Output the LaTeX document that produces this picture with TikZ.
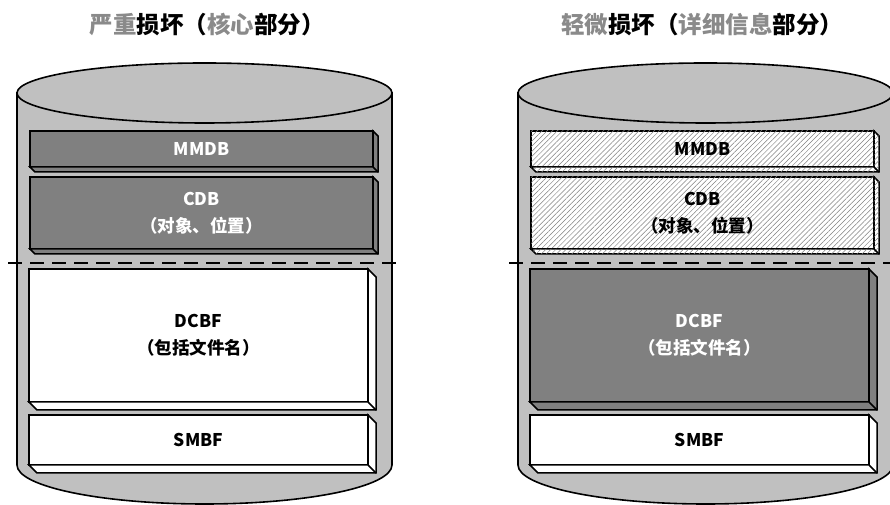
\documentclass[tikz,border=0pt]{standalone}
\usepackage{fontspec}
\newfontfamily\cjk{Noto Sans CJK SC}
\usetikzlibrary{patterns.meta,calc}
\definecolor{cylgray}{HTML}{C0C0C0}
\definecolor{boxdark}{HTML}{808080}
\definecolor{titlegray}{HTML}{8A8A8A}

\tikzset{
  cylbody/.style={draw=black, line width=1.6pt, fill=cylgray},
  layer/.style={draw=black, line width=1.5pt, anchor=north west, inner sep=0pt,
    outer sep=0pt, align=center, font=\cjk\bfseries\fontsize{17.5}{27}\selectfont},
  darkfill/.style={fill=boxdark},
  whitefill/.style={fill=white},
  hatchfill/.style={fill=white, postaction={pattern={Lines[angle=45,distance=3.6pt,line width=0.5pt]}, pattern color=gray}},
  darklayer/.style={layer, darkfill, text=white},
  whitelayer/.style={layer, whitefill, text=black},
  hatchlayer/.style={layer, hatchfill, text=black},
  cut/.style={line width=1.8pt, dash pattern=on 14pt off 8pt},
  heading/.style={font=\cjk\bfseries\fontsize{23.5}{28}\selectfont, inner sep=0pt},
}

% 3D edge (right side and bottom strip) under a layer node
\newcommand\bevel[3]{%
  \draw[line width=1.5pt, #3] (#1.north east) -- ++(#2,-#2)
    -- ($(#1.south east)+(#2,-#2)$) -- ($(#1.south west)+(#2,-#2)$)
    -- (#1.south west) -- (#1.south east) -- cycle;
  \draw[line width=1.5pt] (#1.south east) -- ++(#2,-#2);
}

% cylinder: left edge x, width
\newcommand\drum[2]{%
  \draw[cylbody] (#1,412) -- (#1,40)
    arc[start angle=180, end angle=360, x radius=#2/2, y radius=39]
    -- ++(0,372) -- cycle;
  \draw[cylbody] (#1+#2/2,412) ellipse[x radius=#2/2, y radius=30];
}

\begin{document}
\begin{tikzpicture}[x=1pt, y=1pt]
  \useasboundingbox (0,0) rectangle (890,505);

  % ---- headings ----
  \node[heading] (titleL) at (207,480)
    {\textcolor{titlegray}{严重}损坏（\textcolor{titlegray}{核心}部分）};
  \node[heading] (titleR) at (702,480)
    {\textcolor{titlegray}{轻微}损坏（\textcolor{titlegray}{详细信息}部分）};

  % ---- cylinders ----
  \drum{17}{375}
  \drum{518}{375}

  % ---- dividing lines ----
  \draw[cut] (8,242) -- (400,242);
  \draw[cut] (509,242) -- (892,242);

  % ---- left cylinder: severe damage ----
  \node[darklayer, minimum width=343, minimum height=36] (mmdbL) at (30,374) {MMDB};
  \bevel{mmdbL}{5}{darkfill}
  \node[darklayer, minimum width=343, minimum height=72] (cdbL) at (30,328) {CDB\\（对象、位置）};
  \bevel{cdbL}{5}{darkfill}
  \node[whitelayer, minimum width=339, minimum height=133] (dcbfL) at (29,236) {DCBF\\（包括文件名）};
  \bevel{dcbfL}{8}{whitefill}
  \node[whitelayer, minimum width=339, minimum height=50] (smbfL) at (29,90) {SMBF};
  \bevel{smbfL}{8}{whitefill}

  % ---- right cylinder: minor damage ----
  \node[hatchlayer, minimum width=343, minimum height=36] (mmdbR) at (531,374) {MMDB};
  \bevel{mmdbR}{5}{hatchfill}
  \node[hatchlayer, minimum width=343, minimum height=72] (cdbR) at (531,328) {CDB\\（对象、位置）};
  \bevel{cdbR}{5}{hatchfill}
  \node[darklayer, minimum width=339, minimum height=133] (dcbfR) at (530,236) {DCBF\\（包括文件名）};
  \bevel{dcbfR}{8}{darkfill}
  \node[whitelayer, minimum width=339, minimum height=50] (smbfR) at (530,90) {SMBF};
  \bevel{smbfR}{8}{whitefill}
\end{tikzpicture}
\end{document}
